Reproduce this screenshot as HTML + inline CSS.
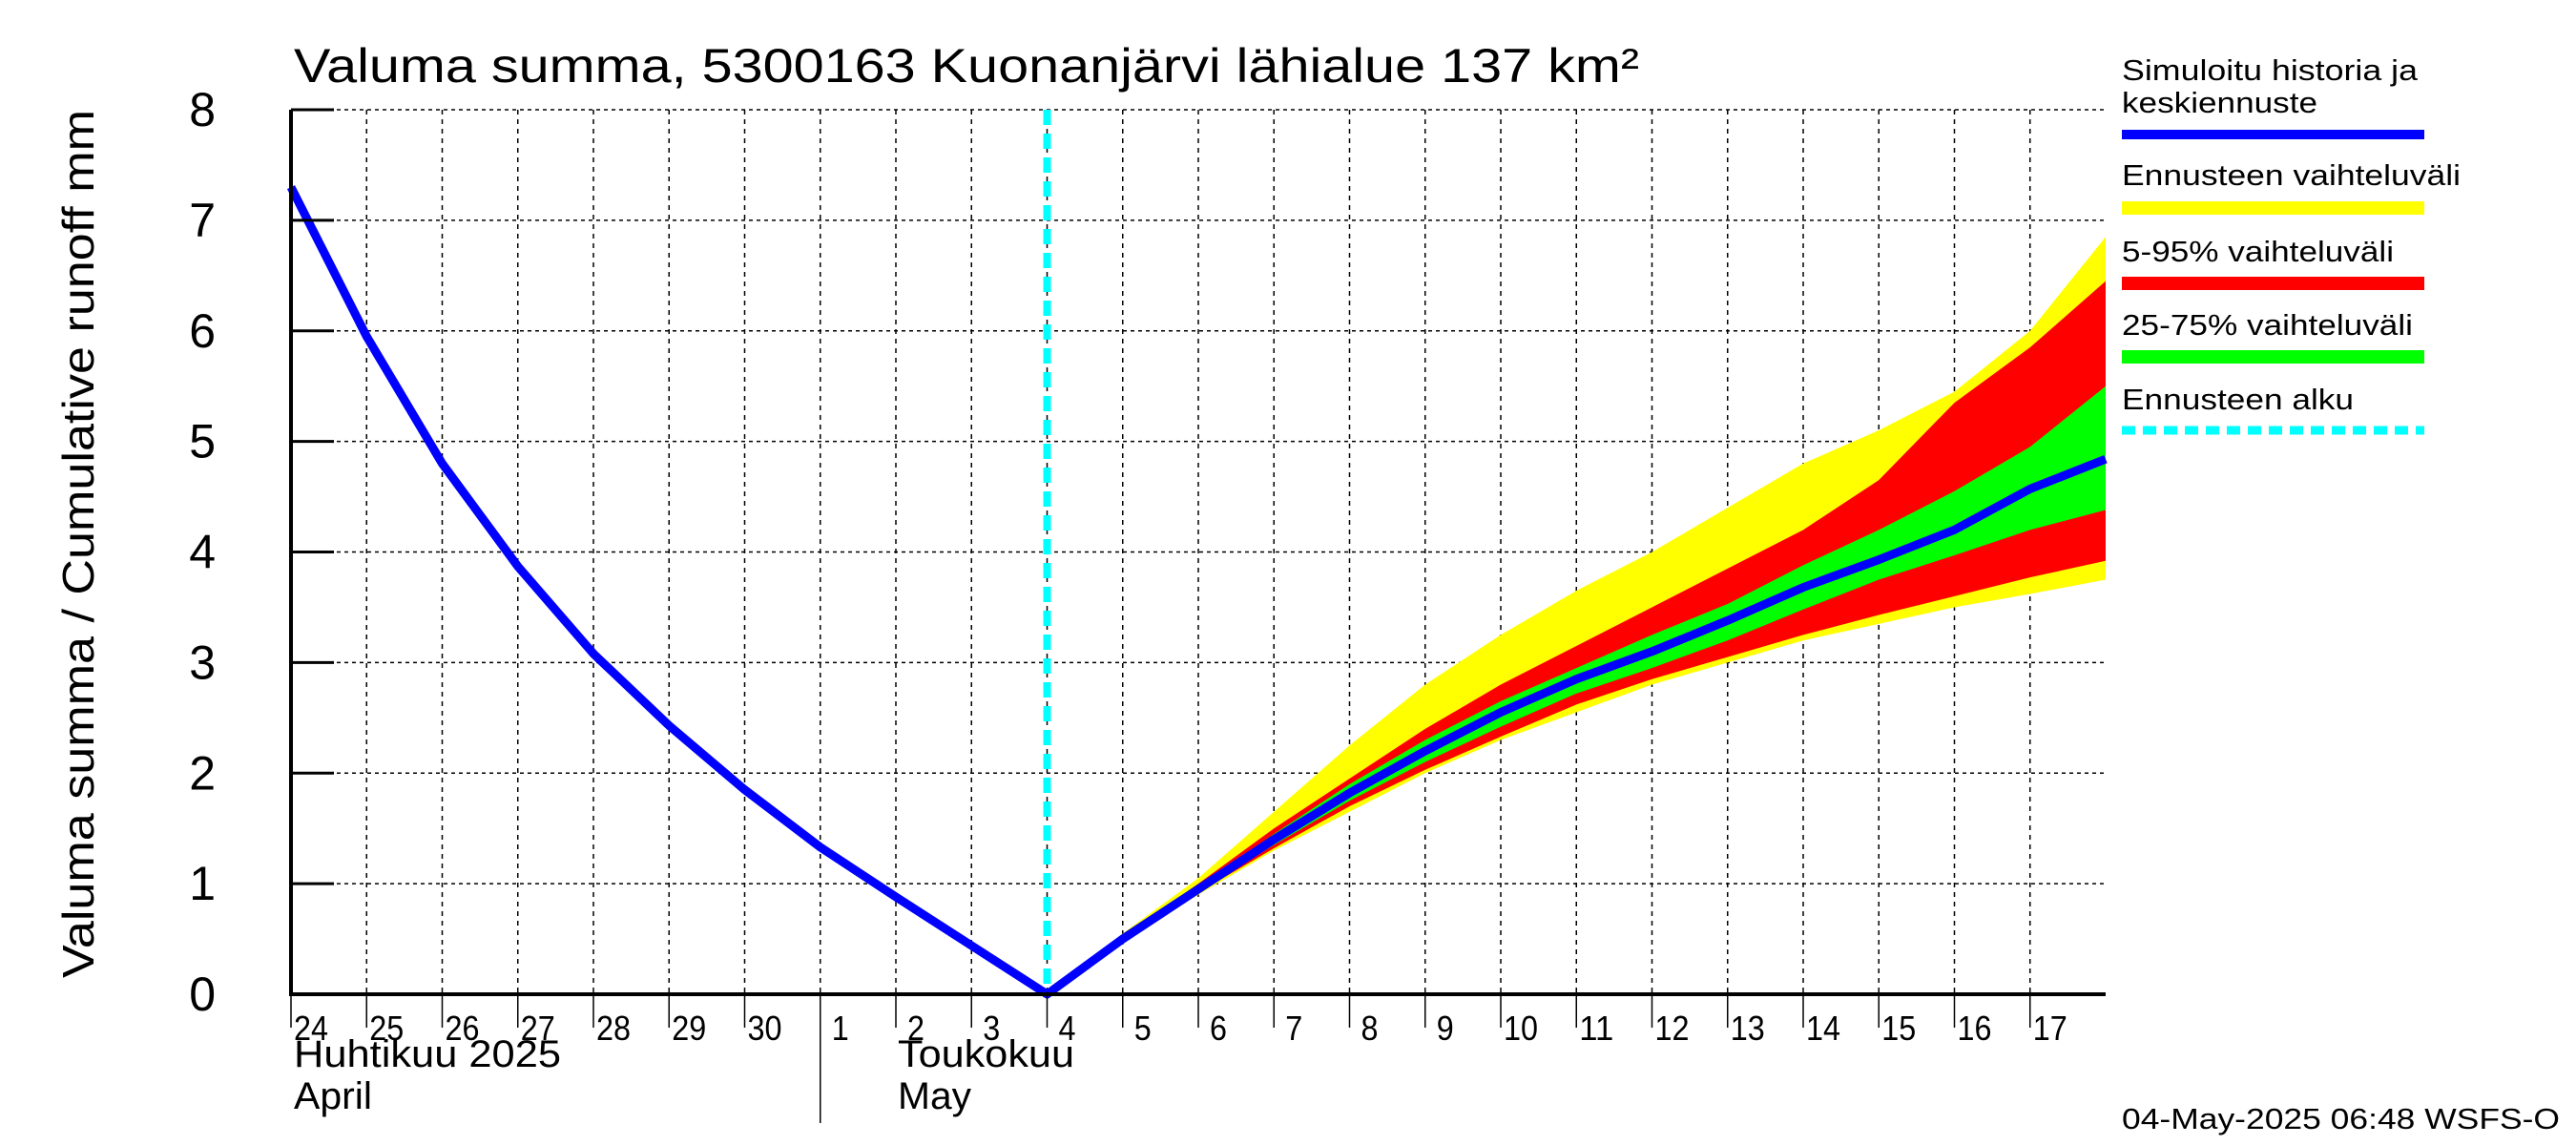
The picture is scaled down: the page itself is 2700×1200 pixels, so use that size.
<!DOCTYPE html>
<html><head><meta charset="utf-8"><style>
html,body{margin:0;padding:0;background:#fff;}
svg{display:block;font-family:"Liberation Sans",sans-serif;}
</style></head><body>
<svg id="chart" width="2700" height="1200" viewBox="0 0 2700 1200" xmlns="http://www.w3.org/2000/svg">
<text x="308" y="86" font-size="50" textLength="1410" lengthAdjust="spacingAndGlyphs">Valuma summa, 5300163 Kuonanjärvi lähialue 137 km²</text>
<text transform="translate(98,1025) rotate(-90)" font-size="46" textLength="910" lengthAdjust="spacingAndGlyphs">Valuma summa / Cumulative runoff    mm</text>
<g id="grid"></g><g id="bands"></g><g id="lines"></g><g id="axes"></g>
<g font-size="31">
<text x="2224" y="84" textLength="310" lengthAdjust="spacingAndGlyphs">Simuloitu historia ja</text>
<text x="2224" y="118" textLength="205" lengthAdjust="spacingAndGlyphs">keskiennuste</text>
<line x1="2224" y1="141" x2="2541" y2="141" stroke="#0000ff" stroke-width="10"/>
<text x="2224" y="194" textLength="355" lengthAdjust="spacingAndGlyphs">Ennusteen vaihteluväli</text>
<line x1="2224" y1="218" x2="2541" y2="218" stroke="#ffff00" stroke-width="14"/>
<text x="2224" y="274" textLength="285" lengthAdjust="spacingAndGlyphs">5-95% vaihteluväli</text>
<line x1="2224" y1="297" x2="2541" y2="297" stroke="#ff0000" stroke-width="14"/>
<text x="2224" y="351" textLength="305" lengthAdjust="spacingAndGlyphs">25-75% vaihteluväli</text>
<line x1="2224" y1="374" x2="2541" y2="374" stroke="#00ff00" stroke-width="14"/>
<text x="2224" y="429" textLength="243" lengthAdjust="spacingAndGlyphs">Ennusteen alku</text>
<line x1="2224" y1="451" x2="2541" y2="451" stroke="#00ffff" stroke-width="9" stroke-dasharray="14,8"/>
</g>
<text x="2224" y="1183" font-size="31" textLength="459" lengthAdjust="spacingAndGlyphs">04-May-2025 06:48 WSFS-O</text>
</svg>
<script>
const dayLabels = ["24","25","26","27","28","29","30","1","2","3","4","5","6","7","8","9","10","11","12","13","14","15","16","17"];
const yTicks = [0,1,2,3,4,5,6,7,8];
const histValues = [7.3,5.95,4.8,3.87,3.08,2.43,1.85,1.33,0.88,0.44,0];
const fcValues = [0,0.5,0.95,1.4,1.82,2.2,2.55,2.85,3.1,3.38,3.68,3.93,4.2,4.57,4.84];
const yelUpper = [0,0.55,1.05,1.65,2.25,2.8,3.25,3.65,4.0,4.4,4.8,5.1,5.45,6.0,6.85];
const yelLower = [0,0.48,0.9,1.3,1.65,2.0,2.3,2.55,2.8,3.0,3.2,3.35,3.5,3.62,3.75];
const redUpper = [0,0.52,1.0,1.5,1.95,2.4,2.8,3.15,3.5,3.85,4.2,4.65,5.35,5.85,6.45];
const redLower = [0,0.48,0.92,1.32,1.7,2.03,2.33,2.62,2.85,3.05,3.25,3.43,3.6,3.77,3.92];
const grnUpper = [0,0.51,0.97,1.45,1.9,2.3,2.65,2.95,3.25,3.53,3.88,4.2,4.55,4.95,5.5];
const grnLower = [0,0.49,0.93,1.35,1.75,2.1,2.42,2.72,2.95,3.2,3.48,3.75,3.97,4.2,4.38];
const forecastStartDay = 10;

const L=305,R=2207,T=115,B=1042,DAYW=(R-L)/24;
const x=d=>L+d*DAYW;
const y=v=>B-(v/8)*(B-T);
const NS="http://www.w3.org/2000/svg";
function mk(tag,parent,attrs){const e=document.createElementNS(NS,tag);for(const k in attrs)e.setAttribute(k,attrs[k]);parent.appendChild(e);return e;}
const grid=document.getElementById('grid'),bands=document.getElementById('bands'),lines=document.getElementById('lines'),axes=document.getElementById('axes');

yTicks.forEach(v=>{
  const g=mk('line',grid,{x1:L,x2:R,y1:y(v),y2:y(v),stroke:'#000','stroke-width':1.5,'stroke-dasharray':'4,4'});
  
  
  const t=mk('line',axes,{x1:L,x2:L+45,y1:y(v),y2:y(v),stroke:'#000','stroke-width':3});
  
  
  const tx=mk('text',axes,{x:226,y:y(v)+17,'font-size':50,'text-anchor':'end'});
  tx.textContent=v;
  
  
});
dayLabels.forEach((lab,i)=>{
  if(i>0){
    const g=mk('line',grid,{x1:x(i),x2:x(i),y1:T,y2:B,stroke:'#000','stroke-width':1.5,'stroke-dasharray':'5,5'});
    
    
  }
  const t=mk('line',axes,{x1:x(i),x2:x(i),y1:B,y2:B+(i===7?135:35),stroke:'#000','stroke-width':1.5});
  
  
  const tx=mk('text',axes,{x:x(i)+(lab.length>1?3:12),y:B+48,'font-size':36,textLength:lab.length*18,lengthAdjust:'spacingAndGlyphs'});
  tx.textContent=lab;
  
  
});
function band(up,lo,color,name){
  const pts=up.map((v,i)=>x(forecastStartDay+i)+','+y(v)).concat(lo.map((v,i)=>x(forecastStartDay+i)+','+y(v)).reverse());
  const p=mk('polygon',bands,{points:pts.join(' '),fill:color});
  
  
}
band(yelUpper,yelLower,'#ffff00','forecast-range-band');
band(redUpper,redLower,'#ff0000','band-5-95');
band(grnUpper,grnLower,'#00ff00','band-25-75');
const cy=mk('line',lines,{x1:x(forecastStartDay),x2:x(forecastStartDay),y1:T,y2:B,stroke:'#00ffff','stroke-width':8,'stroke-dasharray':'16,9'});


const hp=histValues.map((v,i)=>x(i)+','+y(v)).concat(fcValues.slice(1).map((v,i)=>x(forecastStartDay+1+i)+','+y(v)));
const ml=mk('polyline',lines,{points:hp.join(' '),fill:'none',stroke:'#0000ff','stroke-width':9,'stroke-linejoin':'round'});


const ax=mk('path',axes,{d:`M${L},${T} V${B} H${R}`,fill:'none',stroke:'#000','stroke-width':4});


[["Huhtikuu  2025",308,1118,280],["April",308,1162,82],["Toukokuu",941,1118,185],["May",941,1162,77]].forEach(m=>{
  const tx=mk('text',axes,{x:m[1],y:m[2],'font-size':40,textLength:m[3],lengthAdjust:'spacingAndGlyphs'});
  tx.textContent=m[0];
  
  
});
</script>
</body></html>
